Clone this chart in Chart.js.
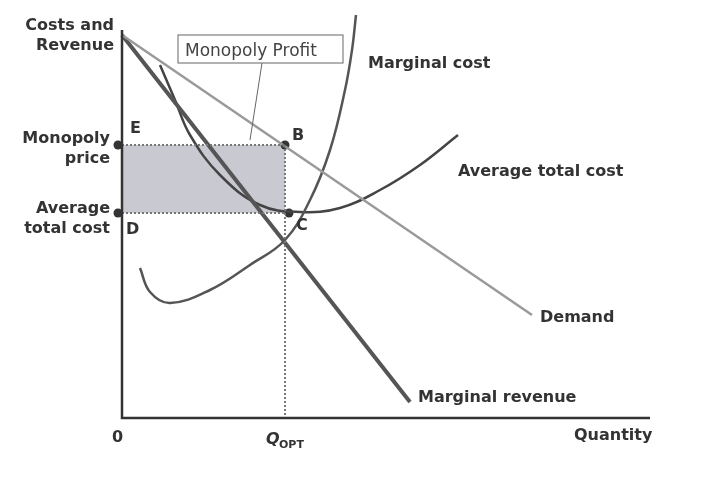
<!DOCTYPE html>
<html><head><meta charset="utf-8">
<script src="https://cdn.jsdelivr.net/npm/chart.js@4/dist/chart.umd.min.js"></script>
<style>body{margin:0;background:#fff}#wrap{width:714px;height:480px}</style>
</head><body><div id="wrap"><canvas id="c"></canvas></div>
<script>
// quantity / price in chart units (origin at bottom-left of axes)
var demandX = [0, 410], demandY = [383, 103];
var mrX = [0, 288], mrY = [383, 16];
var mcX = [18, 28, 48, 88, 128, 163, 188, 208, 223, 230, 234];
var mcY = [150, 126, 115, 128, 153, 178, 218, 268, 328, 368, 403];
var atcX = [38, 53, 68, 98, 138, 178, 218, 258, 298, 336];
var atcY = [353, 318, 283, 243, 213, 206, 210, 228, 253, 283];
var qOpt = 163, priceP = 273, atcP = 205;

function pts(xs, ys) { return xs.map(function (x, i) { return {x: x, y: ys[i]}; }); }

var labels = {
  id: 'labels',
  beforeDatasetsDraw: function (ch) {
    var c = ch.ctx, sx = ch.scales.x, sy = ch.scales.y;
    c.save();
    c.fillStyle = '#c9c9d1';
    c.fillRect(sx.getPixelForValue(0), sy.getPixelForValue(priceP), sx.getPixelForValue(qOpt) - sx.getPixelForValue(0), sy.getPixelForValue(atcP) - sy.getPixelForValue(priceP));
    c.restore();
  },
  afterDraw: function (ch) {
    var c = ch.ctx, a = ch.chartArea, sx = ch.scales.x, sy = ch.scales.y;
    c.save();
    c.strokeStyle = '#333'; c.lineWidth = 2.5;
    c.beginPath(); c.moveTo(a.left, a.top); c.lineTo(a.left, a.bottom); c.lineTo(a.right, a.bottom); c.stroke();
    c.fillStyle = '#333'; c.font = 'bold 16px "DejaVu Sans"';
    c.textAlign = 'right';
    c.fillText('Costs and', 114, 30); c.fillText('Revenue', 114, 50);
    c.fillText('Monopoly', 110, 143); c.fillText('price', 110, 163);
    c.fillText('Average', 110, 213); c.fillText('total cost', 110, 233);
    c.textAlign = 'left';
    c.fillText('E', 130, 133); c.fillText('B', 292, 140);
    c.fillText('D', 126, 234); c.fillText('C', 296, 230);
    c.fillText('Marginal cost', 368, 68);
    c.fillText('Average total cost', 458, 176);
    c.fillText('Demand', 540, 322);
    c.fillText('Marginal revenue', 418, 402);
    c.fillText('0', 112, 442);
    c.fillText('Quantity', 574, 440);
    c.font = 'bold italic 16px "DejaVu Sans"'; c.fillText('Q', 266, 444);
    c.font = 'bold 11px "DejaVu Sans"'; c.fillText('OPT', 279, 448);
    c.fillStyle = '#fff'; c.fillRect(178, 35, 165, 28);
    c.strokeStyle = '#666'; c.lineWidth = 1; c.strokeRect(178, 35, 165, 28);
    c.fillStyle = '#444'; c.font = '17px "DejaVu Sans"'; c.fillText('Monopoly Profit', 185, 56);
    c.beginPath(); c.moveTo(262, 63); c.lineTo(250, 140); c.stroke();
    c.restore();
  }
};

new Chart('c', {
  type: 'scatter',
  data: {datasets: [
    {data: pts([0, qOpt], [priceP, priceP]), showLine: true, borderColor: '#777', borderDash: [2, 2], borderWidth: 2, pointRadius: 0},
    {data: pts([0, qOpt], [atcP, atcP]), showLine: true, borderColor: '#777', borderDash: [2, 2], borderWidth: 2, pointRadius: 0},
    {data: pts([qOpt, qOpt], [priceP, 0]), showLine: true, borderColor: '#777', borderDash: [2, 2], borderWidth: 2, pointRadius: 0},
    {data: pts(demandX, demandY), showLine: true, borderColor: '#9a9a9a', borderWidth: 2.5, pointRadius: 0},
    {data: pts(mrX, mrY), showLine: true, borderColor: '#555', borderWidth: 4, pointRadius: 0},
    {data: pts(mcX, mcY), showLine: true, tension: 0.4, borderColor: '#555', borderWidth: 2.5, pointRadius: 0},
    {data: pts(atcX, atcY), showLine: true, tension: 0.4, borderColor: '#444', borderWidth: 2.5, pointRadius: 0},
    {data: pts([-4, qOpt, -4, qOpt + 4], [priceP, priceP, atcP, atcP]), pointRadius: 4.5, pointBackgroundColor: '#333', pointBorderWidth: 0}
  ]},
  options: {
    responsive: true, maintainAspectRatio: false, animation: false,
    layout: {padding: {left: 122, right: 64, top: 30, bottom: 62}},
    datasets: {scatter: {clip: false}},
    plugins: {legend: {display: false}, tooltip: {enabled: false}},
    scales: {x: {display: false, min: 0, max: 528}, y: {display: false, min: 0, max: 388}}
  },
  plugins: [labels]
});
</script></body></html>
